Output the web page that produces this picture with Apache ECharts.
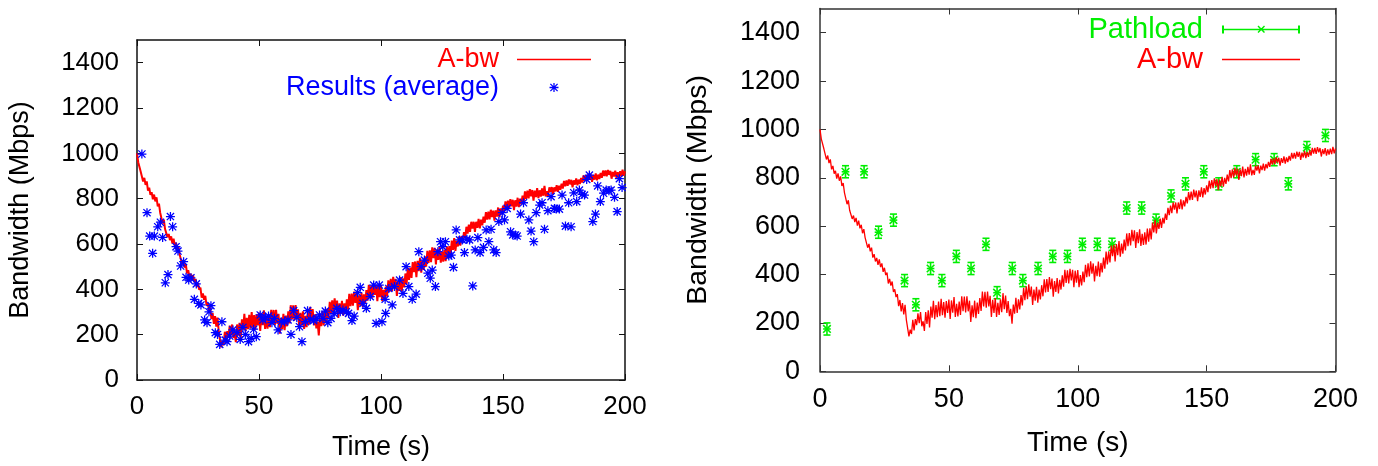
<!DOCTYPE html>
<html>
<head>
<meta charset="utf-8">
<script src="https://cdn.jsdelivr.net/npm/echarts@6/dist/echarts.min.js"></script>
<style>
html,body{margin:0;padding:0;background:#fff;}
#chart{width:1378px;height:466px;}
</style>
</head>
<body>
<div id="chart"></div>
<script>
// ---- data ----
const xTicks = [0, 50, 100, 150, 200];
const yTicks = [0, 200, 400, 600, 800, 1000, 1200, 1400];

// available bandwidth trace (A-bw), one sample per half second
const abwTime = [0,0.5,1,1.5,2,2.5,3,3.5,4,4.5,5,5.5,6,6.5,7,7.5,8,8.5,9,9.5,10,10.5,11,11.5,12,12.5,13,13.5,14,14.5,15,15.5,16,16.5,17,17.5,18,18.5,19,19.5,20,20.5,21,21.5,22,22.5,23,23.5,24,24.5,25,25.5,26,26.5,27,27.5,28,28.5,29,29.5,30,30.5,31,31.5,32,32.5,33,33.5,34,34.5,35,35.5,36,36.5,37,37.5,38,38.5,39,39.5,40,40.5,41,41.5,42,42.5,43,43.5,44,44.5,45,45.5,46,46.5,47,47.5,48,48.5,49,49.5,50,50.5,51,51.5,52,52.5,53,53.5,54,54.5,55,55.5,56,56.5,57,57.5,58,58.5,59,59.5,60,60.5,61,61.5,62,62.5,63,63.5,64,64.5,65,65.5,66,66.5,67,67.5,68,68.5,69,69.5,70,70.5,71,71.5,72,72.5,73,73.5,74,74.5,75,75.5,76,76.5,77,77.5,78,78.5,79,79.5,80,80.5,81,81.5,82,82.5,83,83.5,84,84.5,85,85.5,86,86.5,87,87.5,88,88.5,89,89.5,90,90.5,91,91.5,92,92.5,93,93.5,94,94.5,95,95.5,96,96.5,97,97.5,98,98.5,99,99.5,100,100.5,101,101.5,102,102.5,103,103.5,104,104.5,105,105.5,106,106.5,107,107.5,108,108.5,109,109.5,110,110.5,111,111.5,112,112.5,113,113.5,114,114.5,115,115.5,116,116.5,117,117.5,118,118.5,119,119.5,120,120.5,121,121.5,122,122.5,123,123.5,124,124.5,125,125.5,126,126.5,127,127.5,128,128.5,129,129.5,130,130.5,131,131.5,132,132.5,133,133.5,134,134.5,135,135.5,136,136.5,137,137.5,138,138.5,139,139.5,140,140.5,141,141.5,142,142.5,143,143.5,144,144.5,145,145.5,146,146.5,147,147.5,148,148.5,149,149.5,150,150.5,151,151.5,152,152.5,153,153.5,154,154.5,155,155.5,156,156.5,157,157.5,158,158.5,159,159.5,160,160.5,161,161.5,162,162.5,163,163.5,164,164.5,165,165.5,166,166.5,167,167.5,168,168.5,169,169.5,170,170.5,171,171.5,172,172.5,173,173.5,174,174.5,175,175.5,176,176.5,177,177.5,178,178.5,179,179.5,180,180.5,181,181.5,182,182.5,183,183.5,184,184.5,185,185.5,186,186.5,187,187.5,188,188.5,189,189.5,190,190.5,191,191.5,192,192.5,193,193.5,194,194.5,195,195.5,196,196.5,197,197.5,198,198.5,199,199.5,200];
const abwValue = [
  1000,961,958,920,923,876,892,861,876,835,849,817,829,797,818,788,806,766,778,738,738,691,707,666,671,630,644,617,634,602,623,591,606,571,588,553,558,511,527,496,511,470,484,454,469,440,463,431,446,411,428,398,408,363,382,354,371,328,339,307,319,
  269,295,248,282,235,275,213,221,144,172,154,213,169,216,191,240,199,245,186,207,
  167,245,196,252,181,268,222,292,215,274,224,288,228,300,232,286,
  222,290,241,297,216,293,242,307,225,279,227,288,233,310,248,309,
  243,310,248,292,204,273,224,292,220,284,237,303,250,330,268,329,
  263,330,268,312,225,296,241,303,225,283,233,298,244,323,257,313,
  241,290,228,258,197,276,238,304,241,298,256,315,272,345,294,351,
  298,360,309,350,274,338,292,349,284,338,297,356,310,380,326,381,
  328,390,340,383,308,373,328,386,322,378,338,397,350,420,365,418,
  363,424,376,420,348,416,366,419,348,398,355,412,368,440,389,446,
  392,455,404,446,371,436,393,454,391,448,409,470,424,495,442,496,
  450,520,476,523,454,526,480,539,474,528,486,545,500,570,517,572,
  520,585,538,583,510,576,530,587,518,568,522,575,524,590,536,591,
  545,615,574,626,
  570,615,589,631,593,635,611,652,626,676,646,685,654,698,668,698,
  653,698,671,711,669,707,682,721,694,741,708,743,709,751,719,747,
  703,748,721,761,719,757,731,769,741,788,755,791,757,798,766,795,
  749,793,765,804,763,800,775,813,785,832,799,835,801,842,810,838,
  791,835,807,846,802,837,809,845,813,856,810,833,
  812,850,830,851,818,850,832,859,830,857,839,866,845,878,855,880,
  857,885,863,883,850,881,862,889,859,884,865,891,871,903,879,903,
  879,908,887,907,874,904,884,911,881,906,887,913,892,924,900,924,
  899,927,905,923,888,918,898,923,892,917,896,921,898,928,901,921
];

// left chart: averaged results
const resTime = [2.0,4.1,5.2,6.4,7.1,8.5,9.6,10.5,11.6,12.7,13.7,14.6,16.0,16.8,17.9,19.1,20.1,21.2,22.1,23.5,24.3,25.3,26.2,27.7,28.7,29.5,30.3,32.1,33.0,33.9,34.8,36.2,36.9,38.0,39.3,41.0,42.3,43.4,44.4,45.7,46.8,47.8,48.9,50.5,51.6,52.6,53.9,55.3,56.3,57.8,59.1,60.5,61.9,63.1,64.2,65.5,66.6,67.6,69.0,69.9,71.0,72.4,73.7,74.8,76.2,77.2,78.2,79.5,80.8,81.9,83.3,84.4,85.8,86.7,88.1,89.0,90.4,91.5,92.6,94.0,95.6,97.0,98.0,99.3,100.4,101.7,101.9,103.2,104.6,105.5,107.6,109.0,110.3,111.4,112.8,114.4,115.5,116.5,117.8,119.2,120.2,121.0,122.3,123.3,124.4,125.3,126.4,127.8,128.8,129.7,130.8,132.2,133.3,134.2,135.2,136.3,137.6,138.6,139.7,140.6,142.0,143.1,144.2,145.1,146.2,147.2,148.3,149.7,150.6,151.7,153.1,154.0,155.1,155.8,157.2,158.4,160.6,161.5,162.6,163.6,165.0,166.0,167.0,168.4,169.7,171.1,171.8,173.1,174.2,175.6,176.9,177.9,179.0,180.2,181.3,182.4,183.4,184.3,185.4,186.8,187.9,188.8,189.9,191.2,192.3,193.4,194.3,195.7,196.8,197.7,198.8];
const resValue = [997,738,635,559,635,676,696,629,429,465,721,676,588,569,503,522,453,441,451,356,424,338,331,265,253,301,328,209,201,157,257,176,169,194,221,209,179,232,201,169,184,224,191,287,265,276,282,253,272,221,257,257,265,201,306,276,235,169,257,306,268,262,272,287,272,304,253,272,294,316,301,309,301,294,262,282,385,409,338,316,368,419,250,419,257,356,294,404,331,412,441,382,500,412,356,379,566,500,529,471,449,485,412,566,610,588,610,547,551,497,662,618,618,562,621,618,415,574,628,562,585,662,610,665,574,562,699,738,706,757,654,640,640,635,732,782,706,657,610,738,772,782,665,747,809,757,754,754,816,679,782,676,826,787,838,819,816,885,904,699,732,856,787,824,838,835,838,806,743,888,849];

// right chart: Pathload estimates with error bars
const pathTime = [2.7,9.9,17.1,22.7,28.5,32.8,37.2,42.9,47.3,52.9,58.6,64.4,68.7,74.6,78.7,84.6,90.3,96.0,101.8,107.6,113.3,119.0,124.8,130.4,136.2,141.8,148.9,154.7,161.7,169.0,176.2,181.7,188.9,196.1];
const pathValue = [175,825,825,575,625,375,275,425,375,475,425,525,325,425,375,425,475,475,525,525,525,675,675,625,725,775,825,775,825,875,875,775,925,975];
const pathErr = [25,25,25,25,25,25,25,25,25,25,25,25,25,25,25,25,25,25,25,25,25,25,25,25,25,25,25,25,25,25,25,25,25,25];

// ---- styles ----
const FONT = 'Liberation Sans';
const RED = '#ff0000', BLUE = '#0000ff', GREEN = '#00ee00';
const STAR = 'path://M4.3,0H5.7V10H4.3ZM0,4.3H10V5.7H0ZM1.5,0.5L9.5,8.5L8.5,9.5L0.5,1.5ZM8.5,0.5L9.5,1.5L1.5,9.5L0.5,8.5Z';

function zip(a, b) { return a.map((v, i) => [v, b[i]]); }
const plain = v => String(v);

function xAxisPair(grid, color, labelSize, labelMargin, nameSize, nameGap) {
  const base = {
    gridIndex: grid, type: 'value', min: 0, max: 200, interval: 50,
    splitLine: {show: false},
    axisLine: {show: true, onZero: false, lineStyle: {color: color, width: 1.5}},
    axisTick: {show: true, inside: true, length: 6, lineStyle: {color: color, width: 1}}
  };
  return [
    Object.assign({}, base, {
      position: 'bottom',
      axisLabel: {show: true, color: '#000', fontSize: labelSize, fontFamily: FONT, margin: labelMargin,
        customValues: xTicks, formatter: plain},
      name: 'Time (s)', nameLocation: 'middle', nameGap: nameGap,
      nameTextStyle: {color: '#000', fontSize: nameSize, fontFamily: FONT}
    }),
    Object.assign({}, base, {position: 'top', axisLabel: {show: false}})
  ];
}
function yAxisPair(grid, color, labelSize, labelMargin, nameSize, nameGap) {
  const base = {
    gridIndex: grid, type: 'value', min: 0, max: 1500, interval: 200,
    splitLine: {show: false},
    axisLine: {show: true, onZero: false, lineStyle: {color: color, width: 1.5}},
    axisTick: {show: true, inside: true, length: 6, lineStyle: {color: color, width: 1},
      customValues: yTicks}
  };
  return [
    Object.assign({}, base, {
      position: 'left',
      axisLabel: {show: true, color: '#000', fontSize: labelSize, fontFamily: FONT, margin: labelMargin,
        customValues: yTicks, formatter: plain},
      name: 'Bandwidth (Mbps)', nameLocation: 'middle', nameGap: nameGap,
      nameTextStyle: {color: '#000', fontSize: nameSize, fontFamily: FONT}
    }),
    Object.assign({}, base, {position: 'right', axisLabel: {show: false}})
  ];
}

const xa0 = xAxisPair(0, '#111', 26, 14, 27, 54);
const xa1 = xAxisPair(1, '#333', 27, 15, 28, 58);
const ya0 = yAxisPair(0, '#111', 26, 18, 27, 103);
const ya1 = yAxisPair(1, '#333', 27, 20, 28.5, 107);

const pathData = pathTime.map((t, i) => [t, pathValue[i], pathErr[i]]);

const option = {
  animation: false,
  backgroundColor: '#fff',
  textStyle: {fontFamily: FONT},
  grid: [
    {left: 137, top: 40, width: 488, height: 340, outerBoundsMode: 'none', containLabel: false},
    {left: 820, top: 8.5, width: 515.5, height: 362.8, outerBoundsMode: 'none', containLabel: false}
  ],
  xAxis: [xa0[0], xa0[1], xa1[0], xa1[1]],
  yAxis: [ya0[0], ya0[1], ya1[0], ya1[1]],
  legend: [
    {
      orient: 'vertical', align: 'right', right: 782, top: 41,
      itemWidth: 74, itemHeight: 9, itemGap: 1, padding: 5,
      selectedMode: false,
      formatter: n => n.replace('#2', ''),
      textStyle: {fontSize: 27, lineHeight: 27, fontFamily: FONT, padding: [0, 13, 0, 0]},
      data: [
        {name: 'A-bw', icon: 'path://M0,0H74V1.6H0Z', itemStyle: {color: RED}, textStyle: {color: RED}},
        {name: 'Results (average)', icon: STAR, itemStyle: {color: BLUE}, textStyle: {color: BLUE}}
      ]
    },
    {
      orient: 'vertical', align: 'right', right: 73, top: 10,
      itemWidth: 78, itemHeight: 10, itemGap: 1, padding: 5,
      selectedMode: false,
      formatter: n => n.replace('#2', ''),
      textStyle: {fontSize: 29, lineHeight: 29, fontFamily: FONT, padding: [0, 14, 0, 0]},
      data: [
        {name: 'Pathload', icon: 'path://M0,1H2V4.2H76V1H78V9H76V5.8H2V9H0ZM35.5,2L36.5,1L43,7.5L42,8.5ZM35.5,7.5L42,1L43,2L36.5,8.5Z',
          itemStyle: {color: GREEN}, textStyle: {color: GREEN}},
        {name: 'A-bw#2', icon: 'path://M0,0H78V1.4H0Z', itemStyle: {color: RED}, textStyle: {color: RED}}
      ]
    }
  ],
  series: [
    {
      name: 'A-bw', type: 'line', xAxisIndex: 0, yAxisIndex: 0,
      data: zip(abwTime, abwValue), symbol: 'none', showSymbol: false,
      lineStyle: {color: RED, width: 2}, itemStyle: {color: RED}, z: 2
    },
    {
      name: 'Results (average)', type: 'scatter', xAxisIndex: 0, yAxisIndex: 0,
      data: zip(resTime, resValue), symbol: STAR, symbolSize: 9,
      itemStyle: {color: BLUE, opacity: 1}, z: 3
    },
    {
      name: 'Pathload', type: 'custom', xAxisIndex: 2, yAxisIndex: 2,
      data: pathData, encode: {x: 0, y: 1}, itemStyle: {color: GREEN}, z: 2,
      renderItem: function (params, api) {
        const t = api.value(0), v = api.value(1), e = api.value(2);
        const c = api.coord([t, v]);
        const lo = api.coord([t, v - e]);
        const hi = api.coord([t, v + e]);
        const cap = 3.5, s = 3.8;
        const st = {stroke: GREEN, lineWidth: 1.6, fill: null};
        return {type: 'group', children: [
          {type: 'line', shape: {x1: c[0], y1: lo[1], x2: c[0], y2: hi[1]}, style: st},
          {type: 'line', shape: {x1: c[0] - cap, y1: lo[1], x2: c[0] + cap, y2: lo[1]}, style: st},
          {type: 'line', shape: {x1: c[0] - cap, y1: hi[1], x2: c[0] + cap, y2: hi[1]}, style: st},
          {type: 'line', shape: {x1: c[0] - s, y1: c[1], x2: c[0] + s, y2: c[1]}, style: st},
          {type: 'line', shape: {x1: c[0] - s, y1: c[1] - s, x2: c[0] + s, y2: c[1] + s}, style: st},
          {type: 'line', shape: {x1: c[0] - s, y1: c[1] + s, x2: c[0] + s, y2: c[1] - s}, style: st}
        ]};
      }
    },
    {
      name: 'A-bw#2', type: 'line', xAxisIndex: 2, yAxisIndex: 2,
      data: zip(abwTime, abwValue), symbol: 'none', showSymbol: false,
      lineStyle: {color: RED, width: 1.3}, itemStyle: {color: RED}, z: 3
    }
  ]
};

const chart = echarts.init(document.getElementById('chart'), null, {renderer: 'canvas'});
chart.setOption(option);
</script>
</body>
</html>
